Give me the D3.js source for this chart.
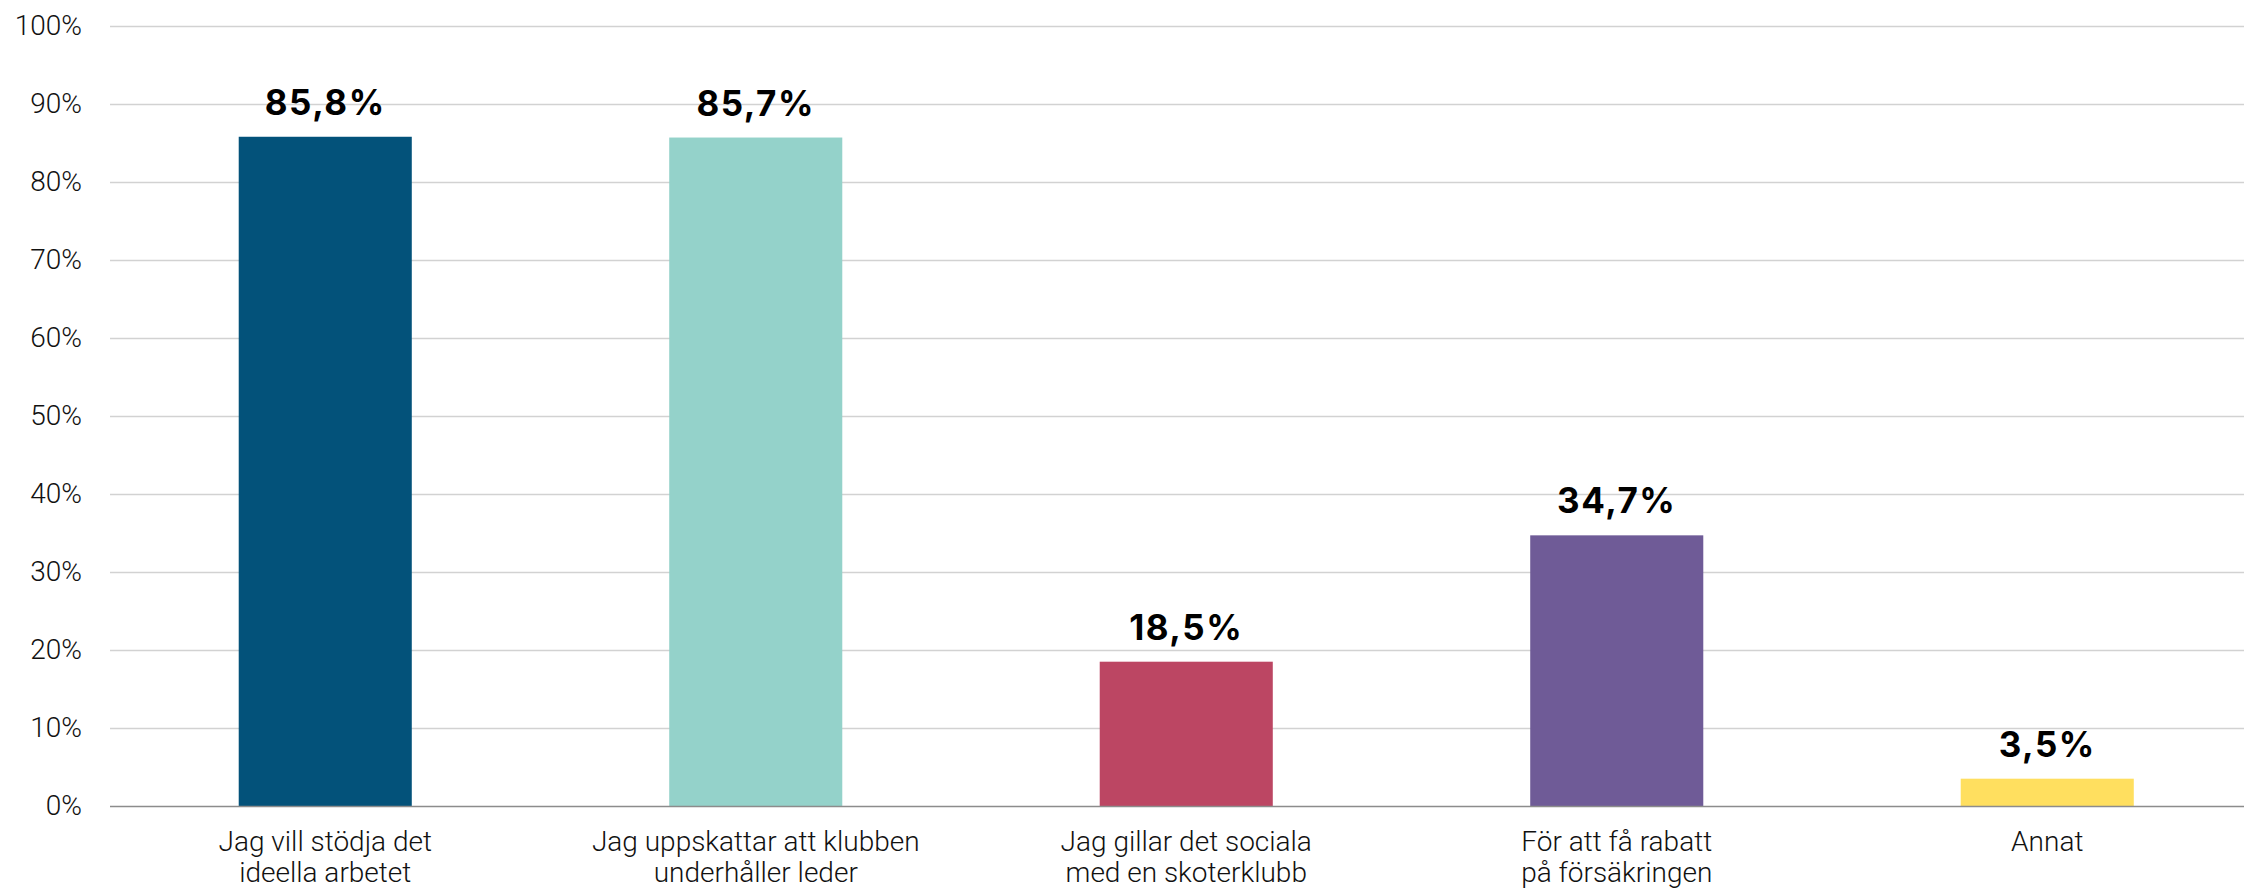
<!DOCTYPE html>
<html>
<head>
<meta charset="utf-8">
<script src="https://cdn.jsdelivr.net/npm/d3@7"></script>
<style>
  body { margin: 0; background: #fff; }
  svg { display: block; }
</style>
</head>
<body>
<svg width="2244" height="891"></svg>
<script>
// Chart data
var categories = [
  ["Jag vill stödja det", "ideella arbetet"],
  ["Jag uppskattar att klubben", "underhåller leder"],
  ["Jag gillar det sociala", "med en skoterklubb"],
  ["För att få rabatt", "på försäkringen"],
  ["Annat"]
];
var values = [85.8, 85.7, 18.5, 34.7, 3.5];
var colors = ["#03527a", "#94d2ca", "#bc4663", "#6f5b97", "#ffdf5f"];
var yTicks = [0, 10, 20, 30, 40, 50, 60, 70, 80, 90, 100];

var svg = d3.select("svg"),
    margin = {top: 26, left: 110, bottom: 85},
    height = +svg.attr("height") - margin.top - margin.bottom;

var keys = categories.map(function(d, i) { return i; });

// band width chosen so the last category sits where it does in the original
var x = d3.scaleBand()
    .domain(keys)
    .range([margin.left, margin.left + 2152.5])
    .paddingInner(0.598)
    .paddingOuter(0.299);

var y = d3.scaleLinear()
    .domain([0, 100])
    .range([margin.top + height, margin.top]);

// Grid lines
svg.append("g")
  .selectAll("line")
  .data(yTicks.filter(function(t) { return t > 0; }))
  .enter().append("line")
    .attr("x1", margin.left)
    .attr("x2", 2244)
    .attr("y1", function(d) { return y(d) + 0.5; })
    .attr("y2", function(d) { return y(d) + 0.5; })
    .attr("stroke", "#d2d2d2")
    .attr("stroke-width", 1.5);

// Y axis labels
var yAxis = svg.append("g")
  .attr("transform", "translate(" + margin.left + ",0)")
  .call(d3.axisLeft(y).tickValues(yTicks).tickSize(0).tickPadding(28)
        .tickFormat(function(d) { return d + "%"; }));
yAxis.select(".domain").remove();
yAxis.selectAll("text")
  .attr("font-family", "Roboto, 'Liberation Sans', sans-serif")
  .attr("font-weight", 300)
  .attr("font-size", "28px")
  .attr("fill", "#111");

// Bars
svg.append("g")
  .selectAll("rect")
  .data(values)
  .enter().append("rect")
    .attr("x", function(d, i) { return x(i); })
    .attr("width", x.bandwidth())
    .attr("y", function(d) { return y(d); })
    .attr("height", function(d) { return y(0) - y(d); })
    .attr("fill", function(d, i) { return colors[i]; });

// Baseline
svg.append("line")
  .attr("x1", margin.left)
  .attr("x2", 2244)
  .attr("y1", y(0) + 0.5)
  .attr("y2", y(0) + 0.5)
  .attr("stroke", "#8c8c8c")
  .attr("stroke-width", 1.5);

// Value labels
svg.append("g")
  .selectAll("text")
  .data(values)
  .enter().append("text")
    .attr("x", function(d, i) { return x(i) + x.bandwidth() / 2; })
    .attr("y", function(d) { return y(d) - 22; })
    .attr("text-anchor", "middle")
    .attr("font-family", "Inter, 'Liberation Sans', sans-serif")
    .attr("font-weight", "bold")
    .attr("font-size", "35px")
    .attr("letter-spacing", "1.5px")
    .attr("fill", "#000")
    .text(function(d) { return d.toFixed(1).replace(".", ",") + "%"; });

// Category labels
var xLabels = svg.append("g")
  .selectAll("text")
  .data(categories)
  .enter().append("text")
    .attr("x", function(d, i) { return x(i) + x.bandwidth() / 2; })
    .attr("y", y(0) + 45)
    .attr("text-anchor", "middle")
    .attr("font-family", "Roboto, 'Liberation Sans', sans-serif")
    .attr("font-weight", 300)
    .attr("font-size", "28px")
    .attr("fill", "#111");

xLabels.selectAll("tspan")
  .data(function(d) { return d; })
  .enter().append("tspan")
    .attr("x", function() { return d3.select(this.parentNode).attr("x"); })
    .attr("dy", function(d, i) { return i === 0 ? 0 : 31; })
    .text(function(d) { return d; });
</script>
</body>
</html>
